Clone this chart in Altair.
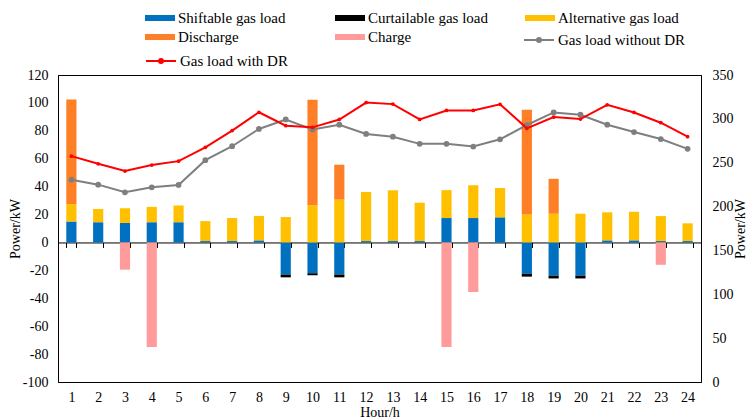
import altair as alt
import pandas as pd

hours = list(range(1, 25))
shiftable = [15, 14.5, 14, 14.5, 14.5, 1, 1, 1.5, -23, -22, -23, 1, 1, 1,
             17.5, 17.5, 18, -22.5, -23.8, -23.8, 1.5, 1.5, 1, 1]
curtailable = [0, 0, 0, 0, 0, 0, 0, 0, -2, -1.5, -2, 0, 0, 0,
               0, 0, 0, -2, -2, -2, 0, 0, 0, 0]
alternative = [12.5, 9.5, 10.5, 11, 12, 14.3, 16.5, 17.5, 18.2, 26.6, 30.7, 35.2, 36.4, 27.5,
               20, 23.5, 21, 20.1, 20.6, 20.6, 20.1, 20.5, 17.9, 12.7]
discharge = [75, 0, 0, 0, 0, 0, 0, 0, 0, 75.6, 25, 0, 0, 0,
             0, 0, 0, 75, 25, 0, 0, 0, 0, 0]
charge = [0, 0, -19.5, -75, 0, 0, 0, 0, 0, 0, 0, 0, 0, 0,
          -75, -35.5, 0, 0, 0, 0, 0, 0, -16, 0]
without_dr = [230.7, 225, 216.3, 222, 224.6, 252.9, 268.8, 288.5, 299.3, 288, 293.3, 282.8,
              279.7, 271.5, 271.5, 268.4, 276.7, 293, 307.3, 304.7, 293.3, 285, 277, 265.8]
with_dr = [257.5, 248.8, 240.5, 247.3, 251.8, 267.6, 286.6, 307.5, 292.2, 290.3, 299.3, 318.6,
           316.8, 299.3, 309.6, 309.6, 316.6, 289.2, 302, 299.8, 316, 307.3, 295.6, 279.7]

bar_names = ["Shiftable gas load", "Curtailable gas load", "Alternative gas load",
             "Discharge", "Charge"]
bar_colors = ["#0070C0", "#000000", "#FFC000", "#FF7F27", "#FF9B9B"]
gray_name, gray_color = "Gas load without DR", "#7F7F7F"
red_name, red_color = "Gas load with DR", "#FF0000"

bar_series = [shiftable, curtailable, alternative, discharge, charge]
rows = []
for k, vals in enumerate(bar_series):
    for h, v in zip(hours, vals):
        rows.append({"hour": h, "value": v, "series": bar_names[k], "ord": k})
bars_df = pd.DataFrame(rows)

gray_df = pd.DataFrame({"hour": hours, "value": without_dr, "series": gray_name})
red_df = pd.DataFrame({"hour": hours, "value": with_dr, "series": red_name})

FONT = "Liberation Serif, Times New Roman, DejaVu Serif, serif"
H = 307
W = 643
zero_off = H * 100 / 220

RECT = "M-1.5,-0.3H1.5V0.3H-1.5Z"
LINEDOT = "M-1.5,0H1.5M-0.2,0A0.2,0.2 0 1 0 0.2,0A0.2,0.2 0 1 0 -0.2,0Z"

common_leg = dict(title=None, orient="none", symbolSize=400, labelOffset=8,
                  labelFont=FONT, labelFontSize=15, labelColor="black", labelLimit=300,
                  padding=0)

bar_legend = alt.Legend(legendX=92, legendY=-67, columns=3, direction="horizontal",
                        gridAlign="all", columnPadding=36, rowPadding=1, symbolType=RECT,
                        symbolStrokeWidth=0, **common_leg)
gray_legend = alt.Legend(legendX=470, legendY=-46, symbolType=LINEDOT,
                         symbolStrokeColor=gray_color, symbolFillColor=gray_color,
                         symbolStrokeWidth=2, **common_leg)
red_legend = alt.Legend(legendX=92, legendY=-25, symbolType=LINEDOT,
                        symbolStrokeColor=red_color, symbolFillColor=red_color,
                        symbolStrokeWidth=2, **common_leg)

x_enc = alt.X(
    "hour:O",
    scale=alt.Scale(paddingInner=0.62, paddingOuter=0.31),
    axis=alt.Axis(
        title="Hour/h", labelAngle=0, offset=-zero_off, tickBand="extent", tickSize=5,
        domainColor="black", tickColor="black", domainWidth=1,
        labelPadding=zero_off + 3,
        titleX=W / 2, titleY=zero_off + 30, titleBaseline="middle", titleAlign="center",
    ),
)

bars = alt.Chart(bars_df).mark_bar().encode(
    x=x_enc,
    y=alt.Y(
        "value:Q", stack="zero",
        scale=alt.Scale(domain=[-100, 120], nice=False, zero=False),
        axis=alt.Axis(values=list(range(-100, 121, 20)), title="Power/kW", ticks=False,
                      tickSize=0, labelPadding=10, grid=False, domainColor="black",
                      labelExpr="'' + datum.value",
                      titleX=-43, titleY=H / 2, titleAngle=270, titleBaseline="middle",
                      titleAlign="center"),
    ),
    color=alt.Color("series:N", scale=alt.Scale(domain=bar_names, range=bar_colors),
                    legend=bar_legend),
    order=alt.Order("ord:Q"),
)

y_right = alt.Y(
    "value:Q",
    scale=alt.Scale(domain=[0, 350], nice=False),
    axis=alt.Axis(orient="right", values=list(range(0, 351, 50)), title="Power/kW",
                  ticks=False, tickSize=0, labelPadding=11, grid=False, domainColor="black",
                  titleX=39, titleY=H / 2, titleAngle=270, titleBaseline="middle",
                  titleAlign="center"),
)

gray_line = alt.Chart(gray_df).mark_line(
    strokeWidth=2,
    point=alt.OverlayMarkDef(filled=True, size=14, color=gray_color),
).encode(
    x=x_enc,
    y=y_right,
    stroke=alt.Stroke("series:N", scale=alt.Scale(domain=[gray_name], range=[gray_color]),
                      legend=gray_legend),
)

red_line = alt.Chart(red_df).mark_line(
    strokeWidth=2,
    point=alt.OverlayMarkDef(filled=True, size=14, color=red_color),
).encode(
    x=x_enc,
    y=y_right,
    color=alt.Color("series:N", scale=alt.Scale(domain=[red_name], range=[red_color]),
                    legend=red_legend),
)

lines = alt.layer(gray_line, red_line)

chart = alt.layer(bars, lines).resolve_scale(y="independent", color="independent").properties(
    width=W, height=H,
    autosize=alt.AutoSizeParams(type="none"),
    padding={"left": 50, "top": 67, "right": 45, "bottom": 38},
    background="white",
).configure_view(stroke="black", strokeWidth=1).configure_axis(
    labelFont=FONT, titleFont=FONT, labelFontSize=14, titleFontSize=14,
    titleFontWeight="normal", labelColor="black", titleColor="black", grid=False,
)

chart.save("out.html", embed_options={"renderer": "svg", "actions": False})
